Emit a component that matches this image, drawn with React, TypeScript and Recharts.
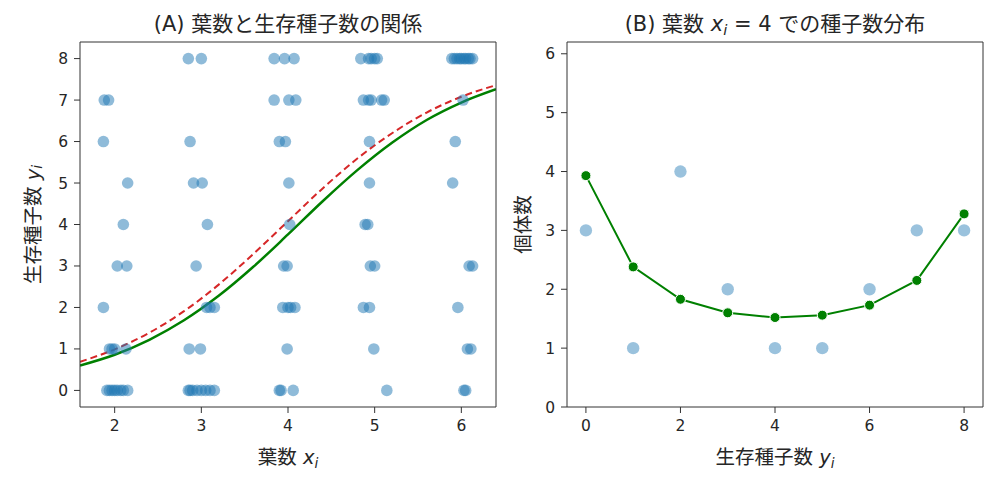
import React from 'react';
import { ComposedChart, Scatter, Line, XAxis, YAxis, Label } from 'recharts';

// (A) observed plants: leaf count x and surviving seeds y (y rows 0..8)
const seedRows = [0, 1, 2, 3, 4, 5, 6, 7, 8];
const leavesByRow = [
  [1.91, 1.94, 1.97, 2.0, 2.03, 2.07, 2.1, 2.15, 2.85, 2.87, 2.9, 2.95, 3.0, 3.05, 3.1, 3.15, 3.9, 3.92, 4.06, 5.14, 6.03, 6.05],
  [1.94, 1.97, 2.0, 2.13, 2.86, 2.99, 3.99, 4.99, 6.07, 6.11],
  [1.87, 3.06, 3.1, 3.15, 3.94, 4.0, 4.03, 4.08, 4.87, 4.94, 5.96],
  [2.03, 2.14, 2.94, 3.95, 3.99, 4.95, 5.0, 6.09, 6.13],
  [2.1, 3.07, 4.02, 4.89, 4.92],
  [2.15, 2.91, 3.01, 4.01, 4.94, 5.9],
  [1.87, 2.87, 3.9, 3.97, 4.94, 5.93],
  [1.88, 1.93, 3.84, 4.01, 4.09, 4.87, 4.93, 4.96, 5.08, 5.11, 6.02],
  [2.85, 3.0, 3.84, 3.96, 4.07, 4.84, 4.93, 4.96, 5.0, 5.03, 5.89, 5.92, 5.95, 5.98, 6.0, 6.03, 6.05, 6.08, 6.1, 6.13],
];

// fitted curves
const curveX = [1.6, 2.0, 2.4, 2.8, 3.2, 3.6, 4.0, 4.4, 4.8, 5.2, 5.6, 6.0, 6.4];
const greenFit = [0.6, 0.86, 1.22, 1.69, 2.28, 2.98, 3.76, 4.56, 5.31, 5.97, 6.52, 6.94, 7.26];
const redFit = [0.69, 0.99, 1.39, 1.91, 2.55, 3.29, 4.08, 4.87, 5.59, 6.2, 6.7, 7.08, 7.36];

// (B) seed count distribution at x_i = 4
const seedCounts = [0, 1, 2, 3, 4, 5, 6, 7, 8];
const observedPlants = [3, 1, 4, 2, 1, 1, 2, 3, 3];
const predictedPlants = [3.93, 2.38, 1.83, 1.6, 1.52, 1.56, 1.73, 2.15, 3.28];

const obsA = seedRows.flatMap((y, i) => leavesByRow[i].map((x) => ({ x, y })));
const greenA = curveX.map((x, i) => ({ x, y: greenFit[i] }));
const redA = curveX.map((x, i) => ({ x, y: redFit[i] }));
const obsB = seedCounts.map((x, i) => ({ x, y: observedPlants[i] }));
const predB = seedCounts.map((x, i) => ({ x, y: predictedPlants[i] }));

const FONT = '"DejaVu Sans", "Noto Sans CJK JP", sans-serif';
const TXT = '#262626';
const AX = '#333';
const tick = { fill: TXT, fontSize: 15.5, fontFamily: FONT };

const sub = (v: string, size: number) => [
  <tspan key="v" fontStyle="italic">{v}</tspan>,
  <tspan key="s" fontStyle="italic" fontSize={size * 0.7} dy={4}>i</tspan>,
];

const xTitle = (text: string, v: string) => (props: any) => {
  const vb = props.viewBox;
  return (
    <text x={vb.x + vb.width / 2} y={vb.y + 57} textAnchor="middle" fontSize={19.5} fill={TXT} fontFamily={FONT}>
      {text}{sub(v, 19.5)}
    </text>
  );
};

const yTitle = (children: React.ReactNode, dx: number) => (props: any) => {
  const vb = props.viewBox;
  const x = vb.x + vb.width - dx;
  const y = vb.y + vb.height / 2;
  return (
    <text x={x} y={y} transform={`rotate(-90 ${x} ${y})`} textAnchor="middle" dominantBaseline="central" fontSize={19.5} fill={TXT} fontFamily={FONT}>
      {children}
    </text>
  );
};

const topTitle = (children: React.ReactNode) => (props: any) => {
  const vb = props.viewBox;
  return (
    <text x={vb.x + vb.width / 2} y={vb.y + vb.height - 11} textAnchor="middle" fontSize={21} fill={TXT} fontFamily={FONT}>
      {children}
    </text>
  );
};

const dotA = (p: any) => <circle cx={p.cx} cy={p.cy} r={5.8} fill="#1f77b4" fillOpacity={0.5} />;
const dotB = (p: any) => <circle cx={p.cx} cy={p.cy} r={6.2} fill="#1f77b4" fillOpacity={0.45} />;
const noDot = () => <g />;

const App: React.FC = () => {
  return (
    <div style={{ position: 'absolute', left: 0, top: 0, width: 1000, height: 485, background: '#fff', display: 'flex' }}>
      <ComposedChart width={500} height={485} margin={{ top: 0, right: 3, bottom: 0, left: 0 }}>
        <XAxis dataKey="x" type="number" domain={[1.6, 6.4]} ticks={[2, 3, 4, 5, 6]} allowDataOverflow
          height={78} tickSize={6} tickMargin={7} stroke={AX} tick={tick}>
          <Label content={xTitle('葉数 ', 'x')} />
        </XAxis>
        <YAxis dataKey="y" type="number" domain={[-0.4, 8.4]} ticks={[0, 1, 2, 3, 4, 5, 6, 7, 8]} allowDataOverflow
          width={80} tickSize={6} tickMargin={6} stroke={AX} tick={tick}>
          <Label content={yTitle(<>{'生存種子数 '}{sub('y', 19.5)}</>, 47)} />
        </YAxis>
        <XAxis xAxisId="top" orientation="top" dataKey="x" type="number" domain={[1.6, 6.4]} allowDataOverflow
          height={42} ticks={[]} tickLine={false} stroke={AX}>
          <Label content={topTitle('(A) 葉数と生存種子数の関係')} />
        </XAxis>
        <YAxis yAxisId="right" orientation="right" dataKey="y" type="number" domain={[-0.4, 8.4]} allowDataOverflow
          width={1} ticks={[]} tickLine={false} stroke={AX} />
        <Scatter data={obsA} xAxisId="top" yAxisId="right" shape={noDot} isAnimationActive={false} />
        <Scatter data={obsA} shape={dotA} isAnimationActive={false} />
        <Line data={redA} dataKey="y" type="monotone" stroke="#d62728" strokeWidth={2} strokeDasharray="7 4" dot={false} isAnimationActive={false} />
        <Line data={greenA} dataKey="y" type="monotone" stroke="#008000" strokeWidth={2.5} dot={false} isAnimationActive={false} />
      </ComposedChart>

      <ComposedChart width={500} height={485} margin={{ top: 0, right: 16, bottom: 0, left: 0 }}>
        <XAxis dataKey="x" type="number" domain={[-0.4, 8.4]} ticks={[0, 2, 4, 6, 8]} allowDataOverflow
          height={78} tickSize={6} tickMargin={7} stroke={AX} tick={tick}>
          <Label content={xTitle('生存種子数 ', 'y')} />
        </XAxis>
        <YAxis dataKey="y" type="number" domain={[0, 6.2]} ticks={[0, 1, 2, 3, 4, 5, 6]} allowDataOverflow
          width={67} tickSize={6} tickMargin={6} stroke={AX} tick={tick}>
          <Label content={yTitle('個体数', 44)} />
        </YAxis>
        <XAxis xAxisId="top" orientation="top" dataKey="x" type="number" domain={[-0.4, 8.4]} allowDataOverflow
          height={42} ticks={[]} tickLine={false} stroke={AX}>
          <Label content={topTitle(<>{'(B) 葉数 '}{sub('x', 21)}<tspan dy={-4}>{' = 4 での種子数分布'}</tspan></>)} />
        </XAxis>
        <YAxis yAxisId="right" orientation="right" dataKey="y" type="number" domain={[0, 6.2]} allowDataOverflow
          width={1} ticks={[]} tickLine={false} stroke={AX} />
        <Scatter data={obsB} xAxisId="top" yAxisId="right" shape={noDot} isAnimationActive={false} />
        <Scatter data={obsB} shape={dotB} isAnimationActive={false} />
        <Line data={predB} dataKey="y" type="linear" stroke="#008000" strokeWidth={2}
          dot={{ r: 5, fill: '#008000', stroke: '#fff', strokeWidth: 1 }} isAnimationActive={false} />
      </ComposedChart>
    </div>
  );
};

export default App;
